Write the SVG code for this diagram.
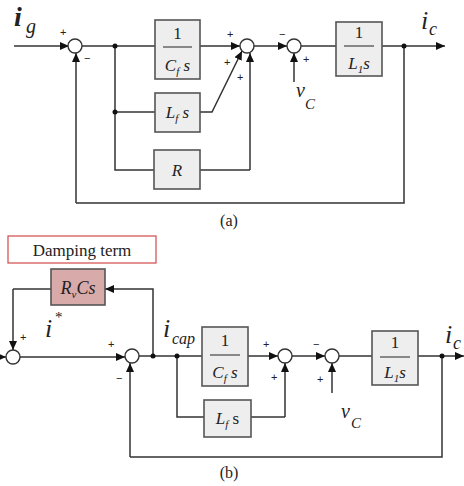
<svg xmlns="http://www.w3.org/2000/svg" width="464" height="486" viewBox="0 0 464 486">
<defs>
<marker id="ah" markerUnits="userSpaceOnUse" markerWidth="10" markerHeight="8" refX="9" refY="4" orient="auto"><path d="M0,0 L9,4 L0,8 z" fill="#111"/></marker>
<style>
.w{fill:none;stroke:#333;stroke-width:1.5}
.a{fill:none;stroke:#333;stroke-width:1.5;marker-end:url(#ah)}
.blk{fill:#eeeeee;stroke:#555;stroke-width:1.6}
.sum{fill:#fff;stroke:#333;stroke-width:1.4}
.dot{fill:#111}
.t{font-style:italic;fill:#222}
.n{fill:#222}
.sg{font-family:'Liberation Sans',sans-serif;font-size:11px;fill:#222}
</style>
</defs>
<rect width="464" height="486" fill="#fff"/>

<g id="connectors">
<path class="a" d="M14,46 H69"/>
<path class="w" d="M82,46 H155"/>
<path class="w" d="M115,46 V170 H154"/>
<path class="w" d="M115,112 H155"/>
<path class="a" d="M200,46 H240"/>
<path class="a" d="M200,112 H212 L242,51"/>
<path class="w" d="M200,170 H250"/>
<path class="a" d="M250,170 V53"/>
<path class="a" d="M253,46 H287"/>
<path class="a" d="M294,82 V53"/>
<path class="w" d="M301,46 H336"/>
<path class="a" d="M382,46 H445"/>
<path class="w" d="M404,46 V203 H76"/>
<path class="a" d="M76,203 V53"/>
<path class="a" d="M0,357 H6"/>
<path class="a" d="M20,357 H125"/>
<path class="w" d="M139,356 H202"/>
<path class="a" d="M153,356 V289 H105"/>
<path class="w" d="M51,289 H13"/>
<path class="a" d="M13,289 V350"/>
<path class="w" d="M177,356 V417 H204"/>
<path class="a" d="M248,356 H278"/>
<path class="w" d="M251,417 H285"/>
<path class="a" d="M285,417 V363"/>
<path class="a" d="M292,356 H325"/>
<path class="a" d="M332,393 V363"/>
<path class="w" d="M339,356 H372"/>
<path class="a" d="M418,356 H464"/>
<path class="w" d="M442,356 V457 H130"/>
<path class="a" d="M130,457 V363"/>
</g>

<g font-family="Liberation Serif, DejaVu Serif, serif">
<g id="label-ig"><text class="t" x="14" y="26" font-size="28" font-weight="bold">i</text><text class="t" x="26" y="33" font-size="20">g</text></g>
<g id="sum-a1"><circle class="sum" cx="75" cy="46" r="7"/><text class="sg" x="60" y="36">+</text><text class="sg" x="84" y="62">−</text></g>
<circle class="dot" cx="115" cy="46" r="2.5"/>
<circle class="dot" cx="115" cy="112" r="2.5"/>
<g id="blk-a-cf"><rect class="blk" x="155" y="20" width="45" height="59"/><text class="n" x="177.5" y="39" font-size="17" text-anchor="middle">1</text><line x1="163" y1="47" x2="192" y2="47" stroke="#222" stroke-width="1"/><text class="t" x="177.5" y="71" font-size="17" text-anchor="middle">C<tspan font-size="11" dy="4">f</tspan><tspan dy="-4"> s</tspan></text></g>
<g id="blk-a-lf"><rect class="blk" x="155" y="93" width="45" height="39"/><text class="t" x="177.5" y="118" font-size="17" text-anchor="middle">L<tspan font-size="11" dy="4">f</tspan><tspan dy="-4"> s</tspan></text></g>
<g id="blk-a-r"><rect class="blk" x="154" y="150" width="46" height="39"/><text class="t" x="177" y="176" font-size="17" text-anchor="middle">R</text></g>
<g id="sum-a2"><circle class="sum" cx="247" cy="46" r="7"/><text class="sg" x="227" y="38">+</text><text class="sg" x="224" y="66">+</text><text class="sg" x="237" y="81">+</text></g>
<g id="sum-a3"><circle class="sum" cx="294" cy="46" r="7"/><text class="sg" x="279" y="38">−</text><text class="sg" x="303" y="63">+</text></g>
<g id="label-vc-a"><text class="t" x="296" y="97" font-size="20">v</text><text class="t" x="305" y="109" font-size="15">C</text></g>
<g id="blk-a-l1"><rect class="blk" x="336" y="22" width="46" height="54"/><text class="n" x="359" y="38" font-size="17" text-anchor="middle">1</text><line x1="344" y1="46" x2="374" y2="46" stroke="#222" stroke-width="1"/><text class="t" x="359" y="69" font-size="17" text-anchor="middle">L<tspan font-size="11" dy="4">1</tspan><tspan dy="-4">s</tspan></text></g>
<circle class="dot" cx="404" cy="46" r="2.5"/>
<g id="label-ic-a"><text class="t" x="421" y="29" font-size="26">i</text><text class="t" x="429" y="35" font-size="18">c</text></g>
<text class="n" x="229" y="226" font-size="16" text-anchor="middle">(a)</text>

<g id="damping"><rect x="8" y="236" width="148" height="27" fill="#fff" stroke="#d04848" stroke-width="1.2"/><text class="n" x="82" y="256" font-size="17" text-anchor="middle">Damping term</text></g>
<g id="blk-b-rv"><rect x="51" y="269" width="54" height="36" fill="#d9aaaa" stroke="#555" stroke-width="1.6"/><text class="t" x="78" y="294" font-size="18" text-anchor="middle">R<tspan font-size="11" dy="4">v</tspan><tspan dy="-4">Cs</tspan></text></g>
<g id="sum-b1"><circle class="sum" cx="13" cy="357" r="7"/><text class="sg" x="20" y="341">+</text></g>
<g id="label-istar"><text class="t" x="45" y="337" font-size="26">i</text><text class="n" x="55" y="322" font-size="15">*</text></g>
<g id="sum-b2"><circle class="sum" cx="132" cy="356" r="7"/><text class="sg" x="108" y="348">+</text><text class="sg" x="116" y="382">−</text></g>
<circle class="dot" cx="153" cy="356" r="2.5"/>
<circle class="dot" cx="177" cy="356" r="2.5"/>
<g id="label-icap"><text class="t" x="163" y="337" font-size="26">i</text><text class="t" x="172" y="344" font-size="16">cap</text></g>
<g id="blk-b-cf"><rect class="blk" x="202" y="327" width="46" height="59"/><text class="n" x="225" y="346" font-size="17" text-anchor="middle">1</text><line x1="210" y1="355" x2="240" y2="355" stroke="#222" stroke-width="1"/><text class="t" x="225" y="378" font-size="17" text-anchor="middle">C<tspan font-size="11" dy="4">f</tspan><tspan dy="-4"> s</tspan></text></g>
<g id="blk-b-lf"><rect class="blk" x="204" y="400" width="47" height="37"/><text class="t" x="227.5" y="424" font-size="17" text-anchor="middle">L<tspan font-size="11" dy="4">f</tspan><tspan dy="-4" font-style="normal"> s</tspan></text></g>
<g id="sum-b3"><circle class="sum" cx="285" cy="356" r="7"/><text class="sg" x="263" y="348">+</text><text class="sg" x="271" y="381">+</text></g>
<g id="sum-b4"><circle class="sum" cx="332" cy="356" r="7"/><text class="sg" x="313" y="348">−</text><text class="sg" x="317" y="383">+</text></g>
<g id="label-vc-b"><text class="t" x="341" y="418" font-size="20">v</text><text class="t" x="351" y="428" font-size="15">C</text></g>
<g id="blk-b-l1"><rect class="blk" x="372" y="331" width="46" height="54"/><text class="n" x="395" y="348" font-size="17" text-anchor="middle">1</text><line x1="380" y1="357" x2="410" y2="357" stroke="#222" stroke-width="1"/><text class="t" x="395" y="378" font-size="17" text-anchor="middle">L<tspan font-size="11" dy="4">1</tspan><tspan dy="-4">s</tspan></text></g>
<circle class="dot" cx="442" cy="356" r="2.5"/>
<g id="label-ic-b"><text class="t" x="445" y="343" font-size="26">i</text><text class="t" x="453" y="349" font-size="18">c</text></g>
<text class="n" x="229" y="478" font-size="16" text-anchor="middle">(b)</text>
</g>
</svg>
